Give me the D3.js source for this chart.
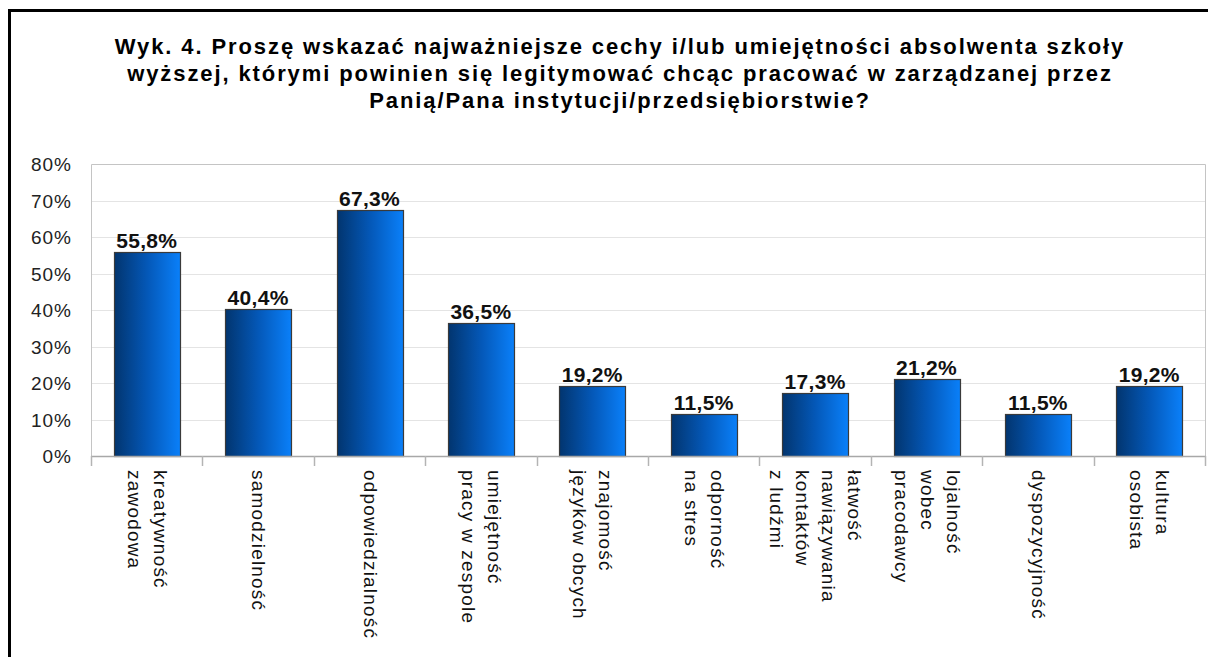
<!DOCTYPE html>
<html>
<head>
<meta charset="utf-8">
<script src="https://cdn.jsdelivr.net/npm/d3@7"></script>
<style>
  body { margin: 0; background: #fff; }
  svg { display: block; font-family: "Liberation Sans", Arial, sans-serif; }
</style>
</head>
<body>
<svg id="chart"></svg>
<script>
// chart data
const titleLines = [
  "Wyk. 4. Proszę wskazać najważniejsze cechy i/lub umiejętności absolwenta szkoły",
  "wyższej, którymi powinien się legitymować chcąc pracować w zarządzanej przez",
  "Panią/Pana instytucji/przedsiębiorstwie?"
];
const categories = [
  ["kreatywność", "zawodowa"],
  ["samodzielność"],
  ["odpowiedzialność"],
  ["umiejętność", "pracy w zespole"],
  ["znajomość", "języków obcych"],
  ["odporność", "na stres"],
  ["łatwość", "nawiązywania", "kontaktów", "z ludźmi"],
  ["lojalność", "wobec", "pracodawcy"],
  ["dyspozycyjność"],
  ["kultura", "osobista"]
];
const values = [55.8, 40.4, 67.3, 36.5, 19.2, 11.5, 17.3, 21.2, 11.5, 19.2];
const yTicks = [0, 10, 20, 30, 40, 50, 60, 70, 80];

const width = 1208, height = 657;
const plot = { left: 91, right: 1205, top: 164, bottom: 456 };

const svg = d3.select("#chart").attr("width", width).attr("height", height);

// black frame round the chart
svg.append("rect")
  .attr("x", 9.5).attr("y", 10.5)
  .attr("width", 1400).attr("height", 1000)
  .attr("fill", "none").attr("stroke", "#000").attr("stroke-width", 3);

// title
svg.append("text")
  .attr("text-anchor", "middle")
  .attr("font-weight", "bold")
  .attr("font-size", 22)
  .attr("letter-spacing", 1.9)
  .attr("fill", "#000")
  .selectAll("tspan")
  .data(titleLines)
  .join("tspan")
  .attr("x", 620)
  .attr("y", (d, i) => 54 + i * 27)
  .text(d => d);

const idx = categories.map((d, i) => i);
const x = d3.scaleBand().domain(idx).range([plot.left, plot.right]).padding(0);
const y = d3.scaleLinear().domain([0, 80]).range([plot.bottom, plot.top]);

// gridlines
svg.append("g")
  .selectAll("line")
  .data(yTicks.filter(t => t > 0 && t < 80))
  .join("line")
  .attr("x1", plot.left).attr("x2", plot.right)
  .attr("y1", d => Math.round(y(d)) + 0.5).attr("y2", d => Math.round(y(d)) + 0.5)
  .attr("stroke", "#e4e4e4");

// plot border (top, left, right)
svg.append("path")
  .attr("d", `M${plot.left + 0.5},${plot.bottom}V${plot.top + 0.5}H${plot.right + 0.5}V${plot.bottom}`)
  .attr("fill", "none").attr("stroke", "#c4c4c4");

// y axis labels
svg.append("g")
  .selectAll("text")
  .data(yTicks)
  .join("text")
  .attr("x", 72)
  .attr("y", d => y(d) + 7)
  .attr("text-anchor", "end")
  .attr("font-size", 19)
  .attr("letter-spacing", 1)
  .attr("fill", "#222")
  .text(d => d + "%");

// gradient for the bars
const grad = svg.append("defs").append("linearGradient")
  .attr("id", "barGrad").attr("x1", "0%").attr("x2", "100%").attr("y1", "0%").attr("y2", "0%");
grad.append("stop").attr("offset", "0%").attr("stop-color", "#02356f");
grad.append("stop").attr("offset", "50%").attr("stop-color", "#0458b8");
grad.append("stop").attr("offset", "100%").attr("stop-color", "#0a80fa");

const barW = x.bandwidth() * 0.59;

svg.append("g")
  .selectAll("rect")
  .data(values)
  .join("rect")
  .attr("x", (d, i) => Math.round(x(i) + (x.bandwidth() - barW) / 2) + 0.5)
  .attr("y", d => Math.round(y(d)) + 0.5)
  .attr("width", Math.round(barW))
  .attr("height", d => Math.round(y(0)) - Math.round(y(d)))
  .attr("fill", "url(#barGrad)")
  .attr("stroke", "#3a3a3a")
  .attr("stroke-width", 1.2);

// value labels
svg.append("g")
  .selectAll("text")
  .data(values)
  .join("text")
  .attr("x", (d, i) => x(i) + x.bandwidth() / 2)
  .attr("y", d => y(d) - 4)
  .attr("text-anchor", "middle")
  .attr("font-weight", "bold")
  .attr("font-size", 21)
  .attr("letter-spacing", 0.3)
  .attr("fill", "#111")
  .text(d => d.toFixed(1).replace(".", ",") + "%");

// x axis line and ticks
svg.append("line")
  .attr("x1", plot.left).attr("x2", plot.right + 1)
  .attr("y1", plot.bottom + 0.5).attr("y2", plot.bottom + 0.5)
  .attr("stroke", "#a8a8a8").attr("stroke-width", 1.5);

svg.append("g")
  .selectAll("line")
  .data(d3.range(categories.length + 1))
  .join("line")
  .attr("x1", i => Math.round(plot.left + i * x.step()) + 0.5)
  .attr("x2", i => Math.round(plot.left + i * x.step()) + 0.5)
  .attr("y1", plot.bottom).attr("y2", plot.bottom + 10)
  .attr("stroke", "#b4b4b4").attr("stroke-width", 1.5);

// rotated category labels, first line on the right
const lineGap = 26;
const labels = svg.append("g")
  .selectAll("text")
  .data(categories)
  .join("text")
  .attr("transform", (d, i) => `translate(${x(i) + x.bandwidth() / 2},470) rotate(90)`)
  .attr("font-size", 19)
  .attr("letter-spacing", 1.2)
  .attr("fill", "#111");

labels.selectAll("tspan")
  .data(d => d.map((t, j) => ({ t, j, n: d.length })))
  .join("tspan")
  .attr("x", 0)
  .attr("y", d => (d.j - (d.n - 1) / 2) * lineGap + 6)
  .text(d => d.t);
</script>
</body>
</html>
